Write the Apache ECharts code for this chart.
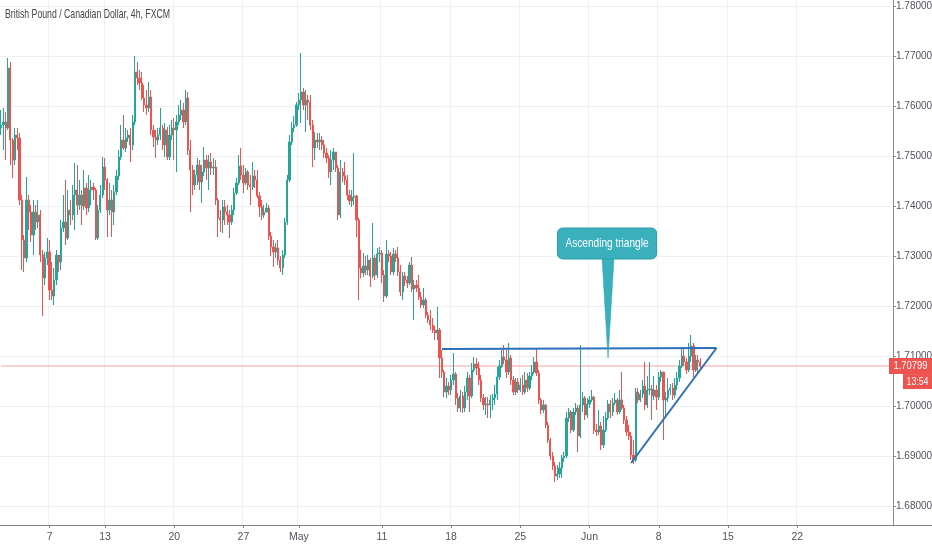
<!DOCTYPE html>
<html><head><meta charset="utf-8">
<script src="https://cdn.jsdelivr.net/npm/echarts@6/dist/echarts.min.js"></script>
<style>html,body{margin:0;padding:0;background:#fff}#c{width:932px;height:550px}</style>
</head><body><div id="c"></div>
<script>
const FONT = '"Liberation Sans",Arial,sans-serif';
const chartTitle = 'British Pound / Canadian Dollar, 4h, FXCM';

// 4h candles, first one = 2020-04-01 bar 3
const firstOpen = 1.7556;
const closes = [
1.7562,1.7568,1.7556,1.7676,1.7532,1.7492,1.7542,1.7536,1.7412,1.7332,
1.7296,1.7412,1.7388,1.7342,1.7388,1.7368,1.7382,1.7302,1.7256,1.7296,
1.7308,1.7232,1.7220,1.7252,1.7302,1.7288,1.7356,1.7368,1.7336,1.7392,
1.7382,1.7422,1.7432,1.7402,1.7422,1.7400,1.7436,1.7396,1.7432,1.7438,
1.7432,1.7336,1.7392,1.7422,1.7478,1.7452,1.7392,1.7412,1.7388,1.7428,
1.7460,1.7498,1.7532,1.7516,1.7536,1.7542,1.7522,1.7568,1.7668,1.7656,
1.7646,1.7616,1.7602,1.7596,1.7618,1.7552,1.7538,1.7532,1.7542,1.7556,
1.7522,1.7552,1.7498,1.7542,1.7556,1.7552,1.7568,1.7582,1.7592,1.7568,
1.7616,1.7512,1.7472,1.7442,1.7462,1.7482,1.7448,1.7468,1.7492,1.7476,
1.7488,1.7476,1.7478,1.7412,1.7376,1.7372,1.7398,1.7388,1.7382,1.7368,
1.7392,1.7426,1.7446,1.7480,1.7462,1.7446,1.7468,1.7442,1.7438,1.7460,
1.7452,1.7420,1.7398,1.7382,1.7388,1.7396,1.7340,1.7318,1.7308,1.7316,
1.7292,1.7276,1.7302,1.7368,1.7452,1.7528,1.7556,1.7562,1.7602,1.7612,
1.7628,1.7602,1.7612,1.7608,1.7562,1.7516,1.7532,1.7528,1.7532,1.7522,
1.7506,1.7496,1.7468,1.7492,1.7508,1.7476,1.7382,1.7468,1.7460,1.7452,
1.7422,1.7410,1.7418,1.7420,1.7372,1.7276,1.7266,1.7280,1.7272,1.7292,
1.7260,1.7296,1.7262,1.7304,1.7306,1.7262,1.7220,1.7304,1.7300,1.7268,
1.7304,1.7296,1.7268,1.7228,1.7260,1.7252,1.7246,1.7282,1.7234,1.7242,
1.7236,1.7218,1.7202,1.7212,1.7182,1.7172,1.7162,1.7152,1.7146,1.7152,
1.7096,1.7068,1.7028,1.7040,1.7032,1.7052,1.7064,1.7016,1.6996,1.7020,
1.6996,1.7028,1.7056,1.7020,1.7072,1.7084,1.7076,1.7052,1.7016,1.7002,
1.7004,1.7002,1.7012,1.7016,1.7024,1.7058,1.7080,1.7098,1.7092,1.7068,
1.7096,1.7052,1.7028,1.7048,1.7032,1.7042,1.7028,1.7052,1.7036,1.7060,
1.7068,1.7088,1.7066,1.7012,1.6992,1.7002,1.6962,1.6932,1.6900,1.6880,
1.6860,1.6864,1.6876,1.6896,1.6900,1.6976,1.6988,1.6952,1.6988,1.6996,
1.6940,1.7002,1.7016,1.6982,1.7004,1.7012,1.7018,1.6952,1.6948,1.6960,
1.6922,1.6952,1.6976,1.7004,1.6988,1.7006,1.7012,1.6988,1.7012,1.6996,
1.6972,1.6948,1.6940,1.6902,1.6892,1.7028,1.7012,1.7024,1.7040,1.7002,
1.7032,1.7034,1.7020,1.7032,1.7018,1.7058,1.7068,1.7012,1.7016,1.7032,
1.7036,1.7022,1.7042,1.7056,1.7080,1.7100,1.7088,1.7072,1.7100,1.7120,
1.7072,1.7092,1.7088,1.70799];
const highs = [
1.7592,1.7596,1.7588,1.7696,1.7688,1.7536,1.7556,1.7556,1.7546,1.7422,
1.7342,1.7458,1.7422,1.7402,1.7412,1.7402,1.7412,1.7392,1.7312,1.7308,
1.7336,1.7332,1.7288,1.7276,1.7312,1.7302,1.7372,1.7422,1.7452,1.7432,
1.7412,1.7442,1.7486,1.7482,1.7452,1.7432,1.7472,1.7446,1.7462,1.7452,
1.7446,1.7436,1.7402,1.7442,1.7498,1.7496,1.7456,1.7446,1.7432,1.7442,
1.7472,1.7512,1.7562,1.7582,1.7556,1.7552,1.7556,1.7582,1.7700,1.7688,
1.7672,1.7668,1.7642,1.7632,1.7648,1.7632,1.7562,1.7552,1.7556,1.7596,
1.7562,1.7566,1.7558,1.7562,1.7572,1.7576,1.7582,1.7602,1.7612,1.7606,
1.7632,1.7628,1.7532,1.7482,1.7472,1.7496,1.7492,1.7482,1.7518,1.7502,
1.7502,1.7506,1.7496,1.7492,1.7416,1.7392,1.7412,1.7412,1.7402,1.7392,
1.7402,1.7436,1.7456,1.7502,1.7516,1.7482,1.7476,1.7472,1.7462,1.7488,
1.7472,1.7472,1.7428,1.7412,1.7402,1.7406,1.7402,1.7348,1.7332,1.7326,
1.7332,1.7300,1.7312,1.7376,1.7462,1.7542,1.7568,1.7580,1.7608,1.7626,
1.7706,1.7636,1.7632,1.7622,1.7622,1.7572,1.7548,1.7546,1.7546,1.7540,
1.7532,1.7516,1.7502,1.7512,1.7516,1.7508,1.7482,1.7492,1.7476,1.7488,
1.7462,1.7432,1.7432,1.7506,1.7422,1.7376,1.7312,1.7306,1.7300,1.7302,
1.7296,1.7366,1.7302,1.7316,1.7318,1.7312,1.7272,1.7332,1.7312,1.7308,
1.7316,1.7312,1.7318,1.7282,1.7268,1.7268,1.7260,1.7288,1.7298,1.7252,
1.7252,1.7262,1.7228,1.7236,1.7216,1.7188,1.7192,1.7176,1.7160,1.7198,
1.7156,1.7112,1.7072,1.7056,1.7048,1.7062,1.7106,1.7068,1.7026,1.7032,
1.7028,1.7040,1.7068,1.7062,1.7086,1.7098,1.7096,1.7088,1.7062,1.7024,
1.7018,1.7018,1.7022,1.7024,1.7042,1.7078,1.7092,1.7112,1.7122,1.7112,
1.7126,1.7102,1.7060,1.7056,1.7056,1.7056,1.7062,1.7068,1.7066,1.7068,
1.7082,1.7098,1.7116,1.7072,1.7016,1.7012,1.7004,1.6968,1.6936,1.6908,
1.6888,1.6882,1.6888,1.6902,1.6908,1.6988,1.6996,1.6992,1.6996,1.7006,
1.7002,1.7122,1.7028,1.7020,1.7016,1.7020,1.7032,1.7020,1.6964,1.6992,
1.6968,1.6980,1.6988,1.7012,1.7012,1.7016,1.7026,1.7016,1.7032,1.7068,
1.7002,1.6980,1.6962,1.6948,1.6932,1.7036,1.7036,1.7032,1.7052,1.7088,
1.7060,1.7088,1.7042,1.7060,1.7042,1.7068,1.7072,1.7068,1.7028,1.7056,
1.7044,1.7046,1.7056,1.7068,1.7092,1.7118,1.7118,1.7096,1.7126,1.7142,
1.7126,1.7102,1.7102,1.7096];
const lows = [
1.7542,1.7512,1.7492,1.7552,1.7482,1.7456,1.7482,1.7512,1.7402,1.7272,
1.7268,1.7288,1.7352,1.7328,1.7302,1.7352,1.7356,1.7288,1.7180,1.7242,
1.7282,1.7212,1.7212,1.7202,1.7242,1.7268,1.7272,1.7348,1.7322,1.7332,
1.7362,1.7372,1.7352,1.7382,1.7392,1.7362,1.7392,1.7382,1.7388,1.7402,
1.7412,1.7332,1.7332,1.7386,1.7416,1.7432,1.7338,1.7382,1.7338,1.7362,
1.7422,1.7452,1.7492,1.7512,1.7508,1.7528,1.7488,1.7512,1.7562,1.7642,
1.7632,1.7612,1.7588,1.7582,1.7588,1.7542,1.7518,1.7496,1.7522,1.7532,
1.7512,1.7498,1.7492,1.7492,1.7532,1.7492,1.7468,1.7562,1.7572,1.7556,
1.7562,1.7502,1.7388,1.7422,1.7432,1.7442,1.7432,1.7406,1.7460,1.7452,
1.7432,1.7462,1.7462,1.7402,1.7338,1.7348,1.7346,1.7362,1.7362,1.7336,
1.7362,1.7382,1.7422,1.7442,1.7452,1.7426,1.7442,1.7432,1.7402,1.7432,
1.7436,1.7416,1.7378,1.7372,1.7376,1.7388,1.7332,1.7300,1.7278,1.7296,
1.7282,1.7268,1.7262,1.7296,1.7362,1.7448,1.7522,1.7548,1.7558,1.7592,
1.7566,1.7592,1.7548,1.7572,1.7552,1.7478,1.7492,1.7516,1.7512,1.7512,
1.7496,1.7486,1.7456,1.7442,1.7472,1.7468,1.7372,1.7376,1.7448,1.7442,
1.7412,1.7402,1.7398,1.7402,1.7338,1.7212,1.7256,1.7258,1.7262,1.7262,
1.7238,1.7256,1.7252,1.7256,1.7288,1.7246,1.7208,1.7216,1.7288,1.7262,
1.7262,1.7288,1.7260,1.7220,1.7212,1.7240,1.7236,1.7242,1.7228,1.7172,
1.7228,1.7212,1.7196,1.7196,1.7176,1.7166,1.7152,1.7146,1.7132,1.7132,
1.7056,1.7056,1.7018,1.7016,1.7022,1.7022,1.7042,1.7002,1.6988,1.6988,
1.6986,1.6988,1.7012,1.6988,1.7016,1.7068,1.7062,1.7042,1.7008,1.6992,
1.6982,1.6976,1.6976,1.6992,1.7002,1.7012,1.7052,1.7076,1.7084,1.7056,
1.7062,1.7042,1.7022,1.7022,1.7026,1.7028,1.7022,1.7024,1.7028,1.7032,
1.7052,1.7064,1.7060,1.7004,1.6984,1.6986,1.6956,1.6926,1.6892,1.6872,
1.6848,1.6852,1.6856,1.6856,1.6888,1.6896,1.6968,1.6946,1.6948,1.6982,
1.6908,1.6936,1.6988,1.6972,1.6976,1.6996,1.7008,1.6944,1.6940,1.6942,
1.6912,1.6916,1.6948,1.6972,1.6976,1.6980,1.7002,1.6982,1.6984,1.6992,
1.6964,1.6940,1.6932,1.6892,1.6884,1.6888,1.7006,1.7008,1.7016,1.6992,
1.6996,1.7022,1.6972,1.7012,1.6992,1.7012,1.7048,1.6932,1.6976,1.7008,
1.7022,1.7012,1.7016,1.7032,1.7048,1.7076,1.7080,1.7064,1.7068,1.7088,
1.7058,1.7068,1.7066,1.7076];

const lastPrice = 1.70799;
const countdown = '13:54';
const tickDays  = ['2020-04-07','2020-04-13','2020-04-20','2020-04-27','2020-05-01','2020-05-11','2020-05-18','2020-05-25','2020-06-01','2020-06-08','2020-06-15','2020-06-22'];
const tickTexts = ['7','13','20','27','May','11','18','25','Jun','8','15','22'];
const triangleTop  = [['2020-05-15 2', 1.7114], ['2020-06-12 1', 1.7116]];
const triangleRise = [['2020-06-04 0', 1.6886], ['2020-06-12 1', 1.7116]];
const calloutText = 'Ascending triangle';
const calloutTip = ['2020-06-02 2', 1.7096];

// categories: trading days, six 4h bars each, view starts at the 4th bar of Apr 1
const categories = [];
for (let t = Date.UTC(2020,3,1); t <= Date.UTC(2020,5,30); t += 86400000) {
  const d = new Date(t), wd = d.getUTCDay();
  if (wd === 0 || wd === 6) continue;
  const ds = d.toISOString().slice(0,10);
  for (let b = 0; b < 6; b++) categories.push(ds + ' ' + b);
}
categories.splice(0, 3);
const labelMap = {};
tickDays.forEach((d, i) => { labelMap[d + ' 0'] = tickTexts[i]; });
const isTick = (idx, val) => labelMap[val] !== undefined;

const opens = [firstOpen].concat(closes.slice(0, -1));
const candleData = closes.map((c, i) => [opens[i], c, lows[i], highs[i]]);
const priceLine = [[categories[0], lastPrice], [categories[categories.length - 1], lastPrice]];

// text width helper (to mimic the narrow screenshot lettering)
const mctx = document.createElement('canvas').getContext('2d');
function squeeze(text, font, target) { mctx.font = font; return target / mctx.measureText(text).width; }

const UP = '#26a69a', DOWN = '#ef5350', BLUE = '#2d6fba';
const chart = echarts.init(document.getElementById('c'), null, {renderer: 'canvas'});
chart.setOption({
  animation: false,
  backgroundColor: '#ffffff',
  grid: {left: 0, right: 39, top: 0, bottom: 25, containLabel: false, outerBoundsMode: 'none'},
  xAxis: {
    type: 'category', data: categories, boundaryGap: true,
    axisLine: {lineStyle: {color: '#7d8089', width: 1}},
    axisTick: {show: true, alignWithLabel: true, interval: isTick, length: 3, lineStyle: {color: '#7d8089'}},
    axisLabel: {interval: isTick, formatter: v => labelMap[v] || '', color: '#50535e', fontSize: 10.5, fontFamily: FONT, margin: 7},
    splitLine: {show: true, interval: isTick, lineStyle: {color: '#eef0f4', width: 1}}
  },
  yAxis: {
    type: 'value', position: 'right', scale: true,
    min: 1.6762, max: 1.7812, splitNumber: 10,
    axisLine: {show: true, lineStyle: {color: '#8a8d96'}},
    axisTick: {show: true, length: 3, lineStyle: {color: '#8a8d96'}},
    axisLabel: {showMinLabel: false, showMaxLabel: false, formatter: v => v.toFixed(5),
      color: '#50535e', fontSize: 10, fontFamily: FONT, margin: 3},
    splitLine: {show: true, showMinLine: false, showMaxLine: false, lineStyle: {color: '#eef0f4', width: 1}}
  },
  series: [
    {type: 'line', data: priceLine, symbol: 'none', silent: true, z: 1,
      lineStyle: {color: '#f2a3a3', width: 1}},
    {
      type: 'candlestick', data: candleData, barWidth: '75%', z: 2,
      itemStyle: {color: UP, color0: DOWN, borderColor: UP, borderColor0: DOWN, borderWidth: 1}
    },
    {type: 'line', data: triangleTop, symbol: 'none', silent: true, z: 5,
      lineStyle: {color: BLUE, width: 2}},
    {type: 'line', data: triangleRise, symbol: 'none', silent: true, z: 5,
      lineStyle: {color: BLUE, width: 2}}
  ]
});

const tip = chart.convertToPixel({gridIndex: 0}, calloutTip);
const py = chart.convertToPixel({yAxisIndex: 0}, lastPrice);
const boxW = 99, boxH = 31, boxBottom = tip[1] - 99;
const bx = tip[0] - boxW / 2 - 1;
const titleFont = '13px ' + FONT, calloutFont = '13px ' + FONT, tagFont = '11px ' + FONT;
chart.setOption({
  graphic: [
    {type: 'text', x: 5, y: 14, scaleX: squeeze(chartTitle, titleFont, 165),
      style: {text: chartTitle, fill: '#454545', font: titleFont, align: 'left', verticalAlign: 'middle'}, z: 30},
    {type: 'line', shape: {x1: 893, y1: 525.5, x2: 932, y2: 525.5}, style: {stroke: '#7d8089', lineWidth: 1}, z: 10},
    {type: 'polygon', shape: {points: [[tip[0]-6, boxBottom-1], [tip[0]+6, boxBottom-1], [tip[0], tip[1]]]},
      style: {fill: '#3ab0bd', stroke: '#2e9eab', lineWidth: 0.5}, z: 20},
    {type: 'rect', shape: {x: bx, y: boxBottom - boxH, width: boxW, height: boxH, r: 5},
      style: {fill: '#3ab0bd', stroke: '#2e9eab', lineWidth: 1}, z: 21},
    {type: 'text', x: bx + boxW / 2, y: boxBottom - boxH / 2, scaleX: squeeze(calloutText, calloutFont, 83),
      style: {text: calloutText, fill: '#ffffff', font: calloutFont, align: 'center', verticalAlign: 'middle'}, z: 22},
    {type: 'rect', shape: {x: 889, y: py - 8, width: 43, height: 16}, style: {fill: DOWN}, z: 20},
    {type: 'text', x: 910.5, y: py, scaleX: squeeze(lastPrice.toFixed(5), tagFont, 34),
      style: {text: lastPrice.toFixed(5), fill: '#ffffff', font: tagFont, align: 'center', verticalAlign: 'middle'}, z: 21},
    {type: 'rect', shape: {x: 903, y: py + 8, width: 29, height: 15}, style: {fill: DOWN}, z: 20},
    {type: 'text', x: 917.5, y: py + 15.5, scaleX: squeeze(countdown, tagFont, 22),
      style: {text: countdown, fill: '#ffffff', font: tagFont, align: 'center', verticalAlign: 'middle'}, z: 21}
  ]
});
</script>
</body></html>
